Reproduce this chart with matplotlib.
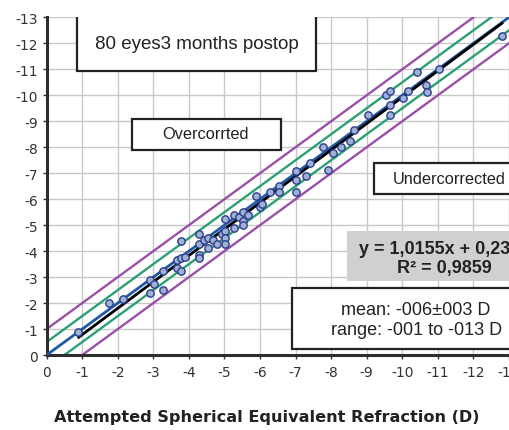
import numpy as np
import matplotlib
matplotlib.use("Agg")
import matplotlib.pyplot as plt
from matplotlib.patches import Rectangle

plt.rcParams["axes.unicode_minus"] = False

# attempted / achieved SE (D)
attempted = [-0.89, -1.76, -2.15, -2.90, -2.90, -3.02, -3.27, -3.27, -3.66, -3.66,
             -3.78, -3.78, -3.78, -3.89, -4.28, -4.28, -4.28, -4.28, -4.41, -4.53,
             -4.53, -4.69, -4.78, -4.92, -5.02, -5.02, -5.02, -5.02, -5.28, -5.28,
             -5.41, -5.53, -5.53, -5.53, -5.67, -5.89, -6.00, -6.05, -6.28, -6.52,
             -6.52, -7.01, -7.01, -7.01, -7.29, -7.41, -7.78, -7.92, -8.04, -8.29,
             -8.53, -8.65, -9.03, -9.54, -9.66, -9.66, -9.66, -10.03, -10.15, -10.42,
             -10.67, -10.69, -11.04, -12.80]
achieved = [-0.88, -2.01, -2.14, -2.90, -2.38, -2.74, -3.25, -2.52, -3.64, -3.36,
            -3.75, -4.38, -3.25, -3.77, -4.64, -4.28, -3.86, -3.74, -4.41, -4.51,
            -4.13, -4.41, -4.28, -4.67, -5.24, -4.77, -4.51, -4.28, -5.40, -4.90,
            -5.31, -5.50, -5.14, -5.01, -5.40, -6.14, -5.69, -5.82, -6.27, -6.50,
            -6.27, -7.10, -6.72, -6.27, -6.91, -7.38, -8.02, -7.13, -7.77, -8.02,
            -8.25, -8.67, -9.25, -10.02, -10.15, -9.64, -9.25, -9.90, -10.15, -10.90,
            -10.40, -10.14, -11.01, -12.27]

slope, intercept = 1.0155, 0.23
fit_range = [-0.9, -12.8]
ticks = list(range(0, -14, -1))

fig = plt.figure(figsize=(5.09, 4.31), dpi=100)
ax = fig.add_axes([0.0917, 0.174, 0.9083, 0.7835])
ax.set_xlim(0, -13)
ax.set_ylim(0, -13)

ax.set_xticks(ticks)
ax.set_yticks(ticks)
ax.grid(True, color="#c8c8c8", lw=1)
ax.set_axisbelow(True)
for s in ["top", "right"]:
    ax.spines[s].set_visible(False)
for s in ["left", "bottom"]:
    ax.spines[s].set_color("#2e2e2e")
    ax.spines[s].set_linewidth(2.2)
ax.tick_params(length=3, width=1, color="#333333", labelsize=10,
               labelcolor="#333333", pad=3)
ax.tick_params(axis="x", pad=4.5)

# reference lines
line = np.array([0, -14])
ax.plot(line, line - 1, color="#9b4fa8", lw=1.7, zorder=2)
ax.plot(line, line + 1, color="#9b4fa8", lw=1.7, zorder=2)
ax.plot(line, line - 0.5, color="#2ca070", lw=1.7, zorder=2)
ax.plot(line, line + 0.5, color="#2ca070", lw=1.7, zorder=2)
ax.plot(line, line, color="#1f5aa8", lw=2.0, zorder=3)

fx = np.array(fit_range)
ax.plot(fx, slope * fx + intercept, color="black", lw=2.0, zorder=4)

ax.scatter(attempted, achieved, s=28, facecolor="#9fb0d0", edgecolor="#2b3d8f",
           lw=1.0, zorder=5)

# boxes
def box(x0, y0, x1, y1, fc="white", ec="#222222"):
    r = Rectangle((x0, y0), x1 - x0, y1 - y0, facecolor=fc, edgecolor=ec,
                  lw=1.6, zorder=6)
    ax.add_patch(r)

box(-0.86, -10.95, -7.57, -14)
box(-2.41, -7.91, -6.59, -9.09)
box(-9.21, -6.2, -14, -7.38)
box(-8.44, -2.83, -14, -4.77, fc="#d0d0d0", ec="none")
box(-6.89, -0.24, -14, -2.58)

ax.text(-4.22, -12.0, "80 eyes3 months postop", fontsize=13.5, family="Liberation Sans",
        ha="center", va="center", color="#222222", zorder=7)
ax.text(-4.48, -8.51, "Overcorrted", fontsize=11.8, family="Liberation Sans",
        ha="center", va="center", color="#222222", zorder=7)
ax.text(-9.74, -6.78, "Undercorrected", fontsize=11.8, family="Liberation Sans",
        ha="left", va="center", color="#222222", zorder=7)
ax.text(-11.18, -3.74, "y = 1,0155x + 0,2367\nR² = 0,9859", fontsize=13,
        family="Liberation Sans", fontweight="bold", ha="center", va="center",
        color="#222222", linespacing=1.15, zorder=7)
ax.text(-10.39, -1.36, "mean: -006±003 D\nrange: -001 to -013 D", fontsize=13,
        family="Liberation Sans", ha="center", va="center", color="#222222",
        linespacing=1.25, zorder=7)

fig.text(0.525, 1 - 418 / 431, "Attempted Spherical Equivalent Refraction (D)",
         fontsize=11.6, fontweight="bold", ha="center", va="center", color="#222222")

fig.savefig("out.png", dpi=100)
